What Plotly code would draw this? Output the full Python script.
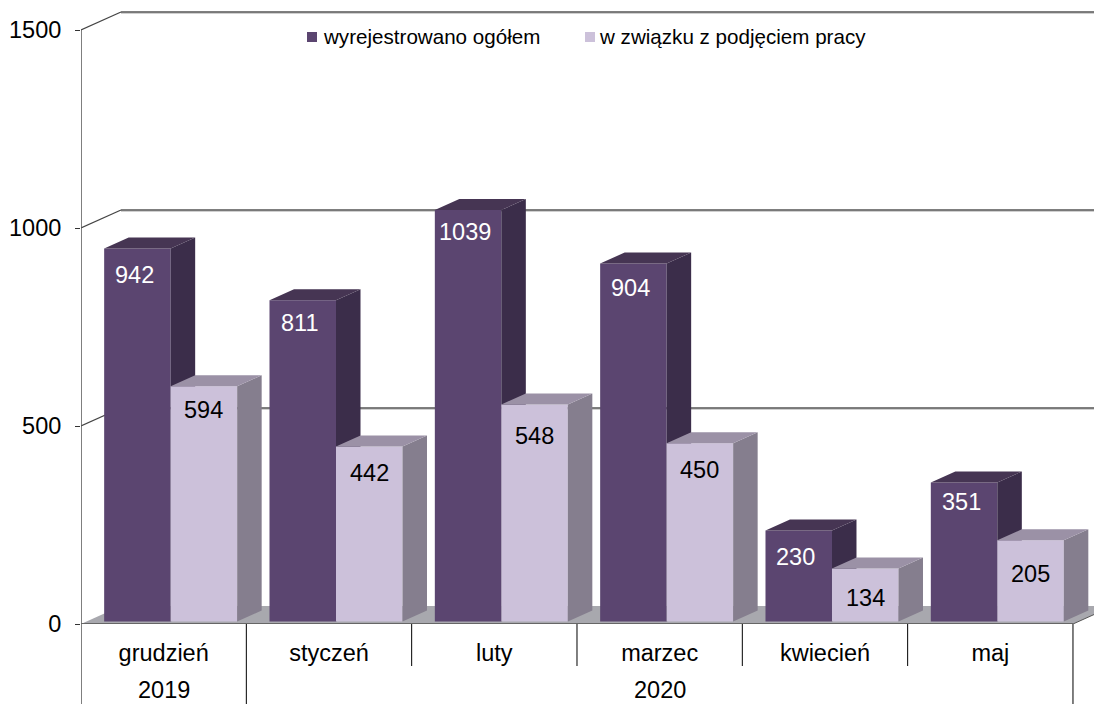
import plotly.graph_objects as go

# --- data ---
categories = ["grudzień", "styczeń", "luty", "marzec", "kwiecień", "maj"]
years = ["2019", "2020"]
year_spans = [(0, 1), (1, 6)]
total_out = [942, 811, 1039, 904, 230, 351]
job_out = [594, 442, 548, 450, 134, 205]
y_ticks = [0, 500, 1000, 1500]
series_names = ["wyrejestrowano ogółem", "w związku z podjęciem pracy"]

# --- styling / projection constants ---
PX_X = 165.33
PX_Y = 0.396
PAGE = 8  # browser body margin
W, H = 1102 - PAGE, 704 - PAGE
ML, MB = 81 - PAGE, 80
XMAX = (W - ML) / PX_X
YMAX = (H - MB) / PX_Y
BAR_W = 66.5 / PX_X
SHIFT = 7 / PX_X
BASE = 2.5 / PX_Y
DX, DY = 24.5 / PX_X, 11 / PX_Y
WALL_DX, WALL_DY = 40 / PX_X, 18 / PX_Y
DARK = dict(front="#5B4570", side="#3B2D4A", top="#463553")
LIGHT = dict(front="#CCC1DA", side="#857E8E", top="#9B91A6")
FONT = "Liberation Sans, Arial, sans-serif"
FS = 23.5
LEG_FS = 20.6
total_shift = [(-3, -27), (-3, -23), (-3, -22), (-3, -24), (-3, -27), (-3, -19)]
job_shift = [(0, -24), (0, -27), (0, -32), (0, -27), (0, -30), (0, -34)]
legend_swatch_px = [307, 585]
legend_text_px = [324, 600]
LEGEND_CY = 37


def add_series(fig, values, left_offset, col, name, xa, ya):
    lefts = [i + 0.5 + SHIFT + left_offset for i in range(len(values))]
    fig.add_trace(go.Bar(x=[l + BAR_W / 2 for l in lefts], y=values, base=BASE, width=BAR_W,
                         marker=dict(color=col["front"], line=dict(width=0)),
                         name=name, xaxis=xa, yaxis=ya, hoverinfo="skip", showlegend=False))
    sx, sy, tx, ty = [], [], [], []
    for l, v in zip(lefts, values):
        r = l + BAR_W
        t = v + BASE
        sx += [r, r + DX, r + DX, r, r, None]
        sy += [BASE, BASE + DY, t + DY, t, BASE, None]
        tx += [l, l + DX, r + DX, r, l, None]
        ty += [t, t + DY, t + DY, t, t, None]
    for px, py, c in ((sx, sy, col["side"]), (tx, ty, col["top"])):
        fig.add_trace(go.Scatter(x=px, y=py, mode="lines", fill="toself", fillcolor=c,
                                 line=dict(width=0, color=c), showlegend=False,
                                 xaxis=xa, yaxis=ya, hoverinfo="skip"))


fig = go.Figure()
add_series(fig, total_out, -BAR_W, DARK, series_names[0], "x", "y")
add_series(fig, job_out, 0, LIGHT, series_names[1], "x2", "y2")

n = len(categories)
shapes = []
shapes.append(dict(type="path", layer="below", xref="x", yref="y", line=dict(width=0),
                   fillcolor="#A8A8AE",
                   path=f"M0,0 L{n},0 L{n + WALL_DX},{WALL_DY} L{WALL_DX},{WALL_DY} Z"))
for v in y_ticks[1:]:
    for c, off in (("#D0D0D0", -3), ("#555555", 0)):
        shapes.append(dict(type="line", layer="below", xref="x", yref="y",
                           x0=WALL_DX, x1=n + WALL_DX, y0=v + WALL_DY + off, y1=v + WALL_DY + off,
                           line=dict(color=c, width=1.5)))
    shapes.append(dict(type="line", layer="below", xref="x", yref="y", x0=0, x1=WALL_DX,
                       y0=v, y1=v + WALL_DY, line=dict(color="#444444", width=1.2)))
shapes.append(dict(type="line", xref="x", yref="y", x0=0, x1=0, y0=0, y1=y_ticks[-1],
                   line=dict(color="#555555", width=1.5)))
shapes.append(dict(type="line", xref="x", yref="y", x0=0, x1=n, y0=0, y1=0,
                   line=dict(color="#666666", width=2)))
shapes.append(dict(type="line", xref="x", yref="y", x0=n, x1=n + WALL_DX, y0=0, y1=WALL_DY,
                   line=dict(color="#555555", width=1)))
year_bounds = {b for s in year_spans for b in s}
for i in range(n + 1):
    shapes.append(dict(type="line", xref="x", yref="paper", ysizemode="pixel", yanchor=0,
                       x0=i, x1=i, y0=0, y1=-(MB if i in year_bounds else 42),
                       line=dict(color="#000000", width=1)))

ann = []
for vals, shifts, left, col in ((total_out, total_shift, -BAR_W / 2, "#FFFFFF"),
                                (job_out, job_shift, BAR_W / 2, "#000000")):
    for k, v in enumerate(vals):
        ann.append(dict(x=k + 0.5 + SHIFT + left, y=v + BASE, text=str(v), showarrow=False,
                        xref="x", yref="y", xshift=shifts[k][0], yshift=shifts[k][1],
                        yanchor="middle", font=dict(family=FONT, size=FS, color=col)))
for yr, (a, b) in zip(years, year_spans):
    ann.append(dict(x=(a + b) / 2, y=0, xref="x", yref="paper", yshift=-66, showarrow=False,
                    yanchor="middle", text=yr, font=dict(family=FONT, size=FS, color="#000000")))


def px_x(p):
    return (p - PAGE - ML) / (W - ML)


def px_y(p):
    return 1 - (p - PAGE) / (H - MB)


for name, sw, tx, col in zip(series_names, legend_swatch_px, legend_text_px,
                             (DARK["front"], LIGHT["front"])):
    shapes.append(dict(type="rect", xref="paper", yref="paper", x0=px_x(sw), x1=px_x(sw + 10),
                       y0=px_y(LEGEND_CY - 5), y1=px_y(LEGEND_CY + 5), fillcolor=col,
                       line=dict(width=0)))
    ann.append(dict(x=px_x(tx), y=px_y(LEGEND_CY), xref="paper", yref="paper", text=name,
                    showarrow=False, xanchor="left", yanchor="middle", xshift=-3,
                    font=dict(family=FONT, size=LEG_FS, color="#000000")))

fig.update_layout(
    width=W, height=H, autosize=False, margin=dict(l=ML, r=0, t=0, b=MB, pad=0),
    paper_bgcolor="white", plot_bgcolor="white", barmode="overlay", shapes=shapes, annotations=ann,
    showlegend=False,
    font=dict(family=FONT, size=FS, color="#000000"),
    xaxis=dict(range=[0, XMAX], tickmode="array", tickvals=[i + 0.5 for i in range(n)],
               ticktext=categories, ticks="", showgrid=False, zeroline=False, showline=False,
               ticklabelstandoff=12, tickfont=dict(family=FONT, size=FS)),
    yaxis=dict(range=[0, YMAX], tickmode="array", tickvals=y_ticks, ticks="outside", ticklen=5,
               tickcolor="#333333", showgrid=False, zeroline=False, showline=False,
               ticklabelstandoff=9, tickfont=dict(family=FONT, size=FS)),
    xaxis2=dict(range=[0, XMAX], overlaying="x", visible=False),
    yaxis2=dict(range=[0, YMAX], overlaying="y", visible=False),
)
fig.write_html("out.html")
